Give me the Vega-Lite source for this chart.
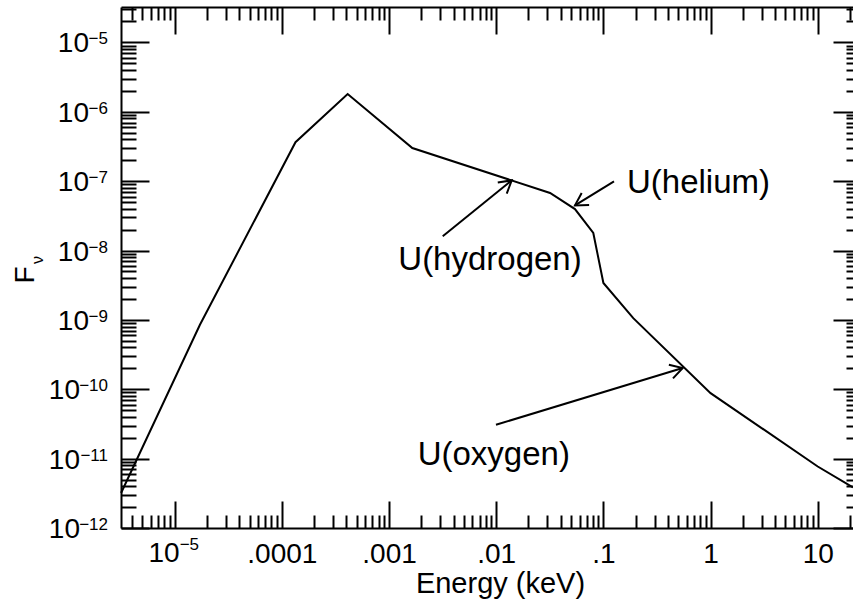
{
  "$schema": "https://vega.github.io/schema/vega-lite/v6.json",
  "width": 732,
  "height": 521,
  "autosize": {"type": "none"},
  "padding": {"left": 121, "top": 7, "right": 0, "bottom": 85},
  "background": "white",
  "datasets": {
    "curve": [
      {"E": 3.16e-6, "F": 3.2e-12},
      {"E": 1.72e-5, "F": 8.5e-10},
      {"E": 1.34e-4, "F": 3.64e-7},
      {"E": 4.11e-4, "F": 1.8e-6},
      {"E": 1.65e-3, "F": 3.0e-7},
      {"E": 0.0318, "F": 6.75e-8},
      {"E": 0.0543, "F": 3.96e-8},
      {"E": 0.0805, "F": 1.79e-8},
      {"E": 0.1, "F": 3.4e-9},
      {"E": 0.19, "F": 1.06e-9},
      {"E": 1.0, "F": 8.8e-11},
      {"E": 10, "F": 7.7e-12},
      {"E": 21.3, "F": 3.85e-12}
    ],
    "arrows": [
      {"name": "hydrogen", "E0": 3.17e-3, "F0": 1.6e-8, "E1": 0.01396, "F1": 1.026e-7},
      {"name": "helium", "E0": 0.1256, "F0": 9.9e-8, "E1": 0.0543, "F1": 4.47e-8},
      {"name": "oxygen", "E0": 9.95e-3, "F0": 3.08e-11, "E1": 0.549, "F1": 2.02e-10}
    ],
    "notes": [
      {"label": "U(helium)", "E": 0.166, "F": 6.8e-8},
      {"label": "U(hydrogen)", "E": 1.22e-3, "F": 5.29e-9},
      {"label": "U(oxygen)", "E": 1.85e-3, "F": 8.17e-12}
    ],
    "xexp": [{"v": 1e-5, "exp": "−5"}],
    "yexp": [
      {"v": 1e-5, "exp": "−5"},
      {"v": 1e-6, "exp": "−6"},
      {"v": 1e-7, "exp": "−7"},
      {"v": 1e-8, "exp": "−8"},
      {"v": 1e-9, "exp": "−9"},
      {"v": 1e-10, "exp": "−10"},
      {"v": 1e-11, "exp": "−11"},
      {"v": 1e-12, "exp": "−12"}
    ]
  },
  "resolve": {"axis": {"x": "independent", "y": "independent"}},
  "layer": [
    {
      "data": {"name": "curve"},
      "mark": {"type": "line", "color": "black", "strokeWidth": 2},
      "encoding": {
        "x": {
          "field": "E", "type": "quantitative",
          "scale": {"type": "log", "domain": [3.155e-6, 21.33], "nice": false},
          "axis": {
            "orient": "bottom",
            "values": [1e-5, 1e-4, 0.001, 0.01, 0.1, 1, 10],
            "tickSize": -27,
            "labelExpr": "datum.value < 5e-5 ? '' : replace(toString(datum.value), '0.', '.')",
            "labelFontSize": 28,
            "labelPadding": 61,
            "labelBaseline": "alphabetic",
            "labelFlush": false,
            "labelOverlap": false,
            "title": "Energy (keV)",
            "titleFontSize": 29,
            "titleX": 379,
            "titleY": 64,
            "titleAlign": "center",
            "titleBaseline": "alphabetic"
          }
        },
        "y": {
          "field": "F", "type": "quantitative",
          "scale": {"type": "log", "domain": [1e-12, 3.236e-5], "nice": false},
          "axis": {
            "orient": "left",
            "values": [1e-12, 1e-11, 1e-10, 1e-9, 1e-8, 1e-7, 1e-6, 1e-5],
            "tickSize": -28,
            "labels": false,
            "title": "F",
            "titleFontSize": 28,
            "titleAngle": 270,
            "titleX": -88,
            "titleY": 276,
            "titleAlign": "left",
            "titleBaseline": "alphabetic"
          }
        }
      }
    },
    {
      "data": {"name": "arrows"},
      "mark": {"type": "rule", "color": "black", "strokeWidth": 2},
      "encoding": {
        "x": {
          "field": "E0", "type": "quantitative",
          "scale": {"type": "log", "domain": [3.155e-6, 21.33], "nice": false},
          "axis": {
            "orient": "bottom",
            "values": [4e-6, 5e-6, 6e-6, 7e-6, 8e-6, 9e-6, 2e-5, 3e-5, 4e-5, 5e-5, 6e-5, 7e-5, 8e-5, 9e-5, 2e-4, 3e-4, 4e-4, 5e-4, 6e-4, 7e-4, 8e-4, 9e-4, 0.002, 0.003, 0.004, 0.005, 0.006, 0.007, 0.008, 0.009, 0.02, 0.03, 0.04, 0.05, 0.06, 0.07, 0.08, 0.09, 0.2, 0.3, 0.4, 0.5, 0.6, 0.7, 0.8, 0.9, 2, 3, 4, 5, 6, 7, 8, 9, 20],
            "tickSize": -13,
            "labels": false,
            "domain": false,
            "title": null
          }
        },
        "x2": {"field": "E1"},
        "y": {
          "field": "F0", "type": "quantitative",
          "scale": {"type": "log", "domain": [1e-12, 3.236e-5], "nice": false},
          "axis": {
            "orient": "left",
            "values": [2e-12, 3e-12, 4e-12, 5e-12, 6e-12, 7e-12, 8e-12, 9e-12, 2e-11, 3e-11, 4e-11, 5e-11, 6e-11, 7e-11, 8e-11, 9e-11, 2e-10, 3e-10, 4e-10, 5e-10, 6e-10, 7e-10, 8e-10, 9e-10, 2e-9, 3e-9, 4e-9, 5e-9, 6e-9, 7e-9, 8e-9, 9e-9, 2e-8, 3e-8, 4e-8, 5e-8, 6e-8, 7e-8, 8e-8, 9e-8, 2e-7, 3e-7, 4e-7, 5e-7, 6e-7, 7e-7, 8e-7, 9e-7, 2e-6, 3e-6, 4e-6, 5e-6, 6e-6, 7e-6, 8e-6, 9e-6, 2e-5, 3e-5],
            "tickSize": -15,
            "labels": false,
            "domain": false,
            "title": null
          }
        },
        "y2": {"field": "F1"}
      }
    },
    {
      "data": {"name": "arrows"},
      "mark": {"type": "point", "shape": "M-1,-0.58L0,0L-1,0.58", "filled": false, "stroke": "black", "strokeWidth": 2, "opacity": 1, "size": 600},
      "encoding": {
        "x": {
          "field": "E1", "type": "quantitative",
          "scale": {"type": "log", "domain": [3.155e-6, 21.33], "nice": false},
          "axis": {
            "orient": "top",
            "values": [1e-5, 1e-4, 0.001, 0.01, 0.1, 1, 10],
            "tickSize": -27,
            "labels": false,
            "title": null
          }
        },
        "y": {
          "field": "F1", "type": "quantitative",
          "scale": {"type": "log", "domain": [1e-12, 3.236e-5], "nice": false},
          "axis": {
            "orient": "right",
            "values": [1e-12, 1e-11, 1e-10, 1e-9, 1e-8, 1e-7, 1e-6, 1e-5],
            "tickSize": -20,
            "labels": false,
            "domain": false,
            "title": null
          }
        },
        "angle": {
          "condition": [
            {"test": "datum.name === 'hydrogen'", "value": 320.9},
            {"test": "datum.name === 'helium'", "value": 148.4}
          ],
          "value": 343.1
        }
      }
    },
    {
      "data": {"name": "notes"},
      "mark": {"type": "text", "align": "left", "baseline": "alphabetic", "fontSize": 33, "color": "black"},
      "encoding": {
        "x": {
          "field": "E", "type": "quantitative",
          "scale": {"type": "log", "domain": [3.155e-6, 21.33], "nice": false},
          "axis": {
            "orient": "top",
            "values": [4e-6, 5e-6, 6e-6, 7e-6, 8e-6, 9e-6, 2e-5, 3e-5, 4e-5, 5e-5, 6e-5, 7e-5, 8e-5, 9e-5, 2e-4, 3e-4, 4e-4, 5e-4, 6e-4, 7e-4, 8e-4, 9e-4, 0.002, 0.003, 0.004, 0.005, 0.006, 0.007, 0.008, 0.009, 0.02, 0.03, 0.04, 0.05, 0.06, 0.07, 0.08, 0.09, 0.2, 0.3, 0.4, 0.5, 0.6, 0.7, 0.8, 0.9, 2, 3, 4, 5, 6, 7, 8, 9, 20],
            "tickSize": -13,
            "labels": false,
            "domain": false,
            "title": null
          }
        },
        "y": {
          "field": "F", "type": "quantitative",
          "scale": {"type": "log", "domain": [1e-12, 3.236e-5], "nice": false},
          "axis": {
            "orient": "right",
            "values": [2e-12, 3e-12, 4e-12, 5e-12, 6e-12, 7e-12, 8e-12, 9e-12, 2e-11, 3e-11, 4e-11, 5e-11, 6e-11, 7e-11, 8e-11, 9e-11, 2e-10, 3e-10, 4e-10, 5e-10, 6e-10, 7e-10, 8e-10, 9e-10, 2e-9, 3e-9, 4e-9, 5e-9, 6e-9, 7e-9, 8e-9, 9e-9, 2e-8, 3e-8, 4e-8, 5e-8, 6e-8, 7e-8, 8e-8, 9e-8, 2e-7, 3e-7, 4e-7, 5e-7, 6e-7, 7e-7, 8e-7, 9e-7, 2e-6, 3e-6, 4e-6, 5e-6, 6e-6, 7e-6, 8e-6, 9e-6, 2e-5, 3e-5],
            "tickSize": -7,
            "labels": false,
            "domain": false,
            "title": null
          }
        },
        "text": {"field": "label"}
      }
    },
    {
      "data": {"name": "yexp"},
      "mark": {"type": "text", "align": "right", "baseline": "alphabetic", "fontSize": 17, "dx": -13, "dy": 2, "color": "black"},
      "encoding": {
        "x": {"datum": 3.155e-6, "type": "quantitative", "scale": {"type": "log", "domain": [3.155e-6, 21.33], "nice": false}, "axis": null},
        "y": {"field": "v", "type": "quantitative", "scale": {"type": "log", "domain": [1e-12, 3.236e-5], "nice": false}, "axis": null},
        "text": {"field": "exp"}
      }
    },
    {
      "data": {"name": "yexp"},
      "transform": [{"filter": "datum.v > 5e-10"}],
      "mark": {"type": "text", "align": "right", "baseline": "alphabetic", "fontSize": 28, "dx": -32, "dy": 10, "color": "black"},
      "encoding": {
        "x": {"datum": 3.155e-6, "type": "quantitative", "scale": {"type": "log", "domain": [3.155e-6, 21.33], "nice": false}, "axis": null},
        "y": {"field": "v", "type": "quantitative", "scale": {"type": "log", "domain": [1e-12, 3.236e-5], "nice": false}, "axis": null},
        "text": {"value": "10"}
      }
    },
    {
      "data": {"name": "yexp"},
      "transform": [{"filter": "datum.v < 5e-10"}],
      "mark": {"type": "text", "align": "right", "baseline": "alphabetic", "fontSize": 28, "dx": -41, "dy": 10, "color": "black"},
      "encoding": {
        "x": {"datum": 3.155e-6, "type": "quantitative", "scale": {"type": "log", "domain": [3.155e-6, 21.33], "nice": false}, "axis": null},
        "y": {"field": "v", "type": "quantitative", "scale": {"type": "log", "domain": [1e-12, 3.236e-5], "nice": false}, "axis": null},
        "text": {"value": "10"}
      }
    },
    {
      "data": {"name": "xexp"},
      "mark": {"type": "text", "align": "left", "baseline": "alphabetic", "fontSize": 17, "dx": 5, "dy": 22, "color": "black"},
      "encoding": {
        "x": {"field": "v", "type": "quantitative", "scale": {"type": "log", "domain": [3.155e-6, 21.33], "nice": false}, "axis": null},
        "y": {"datum": 1e-12, "type": "quantitative", "scale": {"type": "log", "domain": [1e-12, 3.236e-5], "nice": false}, "axis": null},
        "text": {"field": "exp"}
      }
    },
    {
      "data": {"name": "xexp"},
      "mark": {"type": "text", "align": "right", "baseline": "alphabetic", "fontSize": 28, "dx": 5, "dy": 34, "color": "black"},
      "encoding": {
        "x": {"field": "v", "type": "quantitative", "scale": {"type": "log", "domain": [3.155e-6, 21.33], "nice": false}, "axis": null},
        "y": {"datum": 1e-12, "type": "quantitative", "scale": {"type": "log", "domain": [1e-12, 3.236e-5], "nice": false}, "axis": null},
        "text": {"value": "10"}
      }
    },
    {
      "data": {"values": [{"sub": "ν"}]},
      "mark": {"type": "text", "align": "left", "baseline": "alphabetic", "fontSize": 16, "angle": 270, "dx": -13.5, "dy": -78, "color": "black"},
      "encoding": {
        "x": {"datum": 3.155e-6, "type": "quantitative", "scale": {"type": "log", "domain": [3.155e-6, 21.33], "nice": false}, "axis": null},
        "y": {"datum": 1e-8, "type": "quantitative", "scale": {"type": "log", "domain": [1e-12, 3.236e-5], "nice": false}, "axis": null},
        "text": {"field": "sub"}
      }
    }
  ],
  "config": {
    "view": {"stroke": null},
    "font": "Liberation Sans",
    "text": {"font": "Liberation Sans"},
    "axis": {
      "grid": false,
      "domainColor": "black",
      "domainWidth": 2,
      "tickColor": "black",
      "tickWidth": 2,
      "labelFont": "Liberation Sans",
      "labelColor": "black",
      "titleFont": "Liberation Sans",
      "titleColor": "black",
      "titleFontWeight": "normal"
    }
  }
}
